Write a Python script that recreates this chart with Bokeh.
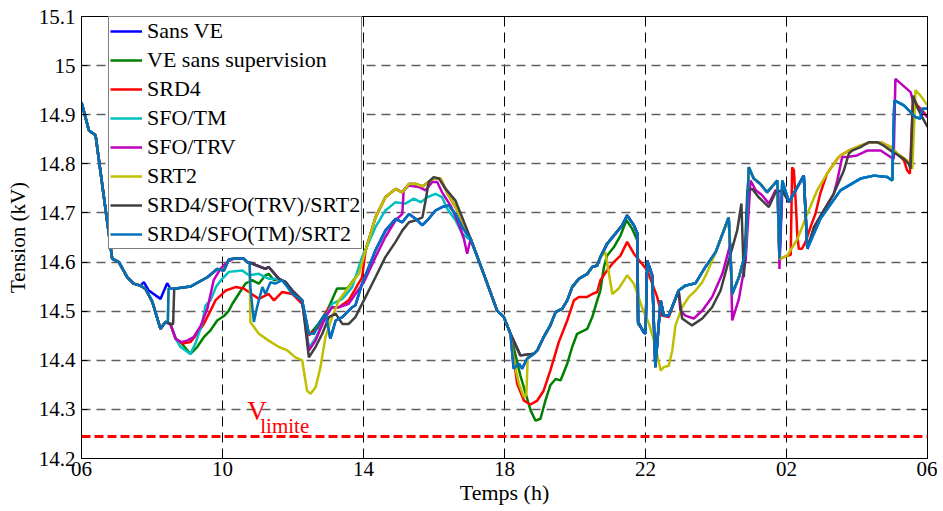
from bokeh.plotting import figure
from bokeh.models import Range1d, FixedTicker, LinearAxis, Span, Label
from bokeh.embed import file_html
from bokeh.resources import INLINE

# ---------------- data (time in hours after 06:00, voltage in kV) ----------------
x_ticks = [0, 4, 8, 12, 16, 20, 24]
x_tick_labels = ["06", "10", "14", "18", "22", "02", "06"]
y_ticks = [14.2, 14.3, 14.4, 14.5, 14.6, 14.7, 14.8, 14.9, 15.0, 15.1]
y_tick_labels = ["14.2", "14.3", "14.4", "14.5", "14.6", "14.7", "14.8", "14.9", "15", "15.1"]
v_limite = 14.245

series_names = ["Sans VE", "VE sans supervision", "SRD4", "SFO/TM", "SFO/TRV", "SRT2",
                "SRD4/SFO(TRV)/SRT2", "SRD4/SFO(TM)/SRT2"]
series_colors = ["#0000FF", "#008000", "#FF0000", "#00BFBF", "#BF00BF", "#BFBF00",
                 "#404040", "#0072BD"]

# shared pieces of the curves
start_t = [0.0, 0.21, 0.40, 0.87, 1.06, 1.30, 1.48, 1.67]
start_v = [14.925, 14.868, 14.858, 14.607, 14.600, 14.569, 14.556, 14.552]

low_a_t = [1.82, 2.01, 2.24, 2.38]
low_a_v = [14.545, 14.519, 14.464, 14.478]

low_b_t = [2.52, 2.67, 2.81]
low_b_v = [14.474, 14.444, 14.437]

jump_t = [2.45, 2.47]
jump_v = [14.478, 14.546]

gray_jump_t = [2.52, 2.60, 2.63]
gray_jump_v = [14.474, 14.474, 14.546]

sansve_morning_t = [1.77, 1.91, 2.24, 2.43, 2.52]
sansve_morning_v = [14.559, 14.542, 14.525, 14.557, 14.546]

top_m_t = [2.67, 3.09, 3.57, 3.85, 4.04, 4.18, 4.32, 4.60, 4.70]
top_m_v = [14.546, 14.550, 14.569, 14.586, 14.583, 14.605, 14.607, 14.607, 14.600]

top_noon_t = [4.84, 5.22, 5.31, 5.60, 5.79, 5.98, 6.26]
top_noon_v = [14.597, 14.586, 14.590, 14.566, 14.559, 14.542, 14.522]

blue_noon_a_t = [4.77, 4.79, 4.89, 4.98, 5.13, 5.22, 5.36, 5.50, 5.69, 5.84, 5.98, 6.26]
blue_noon_a_v = [14.597, 14.549, 14.478, 14.508, 14.549, 14.535, 14.559, 14.556, 14.563,
                 14.549, 14.535, 14.522]

blue_noon_b_t = [6.45, 6.59, 6.73, 6.92, 7.06, 7.21, 7.40, 7.68, 7.77, 7.96, 8.34, 8.62,
                 8.91, 9.10, 9.29, 9.48, 9.67, 9.85, 10.04, 10.23, 10.42, 10.61, 10.80]
blue_noon_b_v = [14.454, 14.454, 14.474, 14.495, 14.444, 14.481, 14.488, 14.508, 14.512,
                 14.556, 14.624, 14.664, 14.688, 14.681, 14.698, 14.688, 14.675, 14.688,
                 14.705, 14.712, 14.715, 14.698, 14.671]

yellow_hill_t = [8.06, 8.34, 8.62, 8.91, 9.10, 9.29, 9.48, 9.67, 9.85, 9.99, 10.18, 10.37,
                 10.61, 10.80, 10.99]
yellow_hill_v = [14.624, 14.691, 14.732, 14.749, 14.742, 14.759, 14.759, 14.754, 14.763,
                 14.770, 14.770, 14.742, 14.712, 14.685, 14.654]

desc_t = [11.04, 11.41, 11.79, 11.98, 12.17]
desc_v = [14.647, 14.576, 14.501, 14.488, 14.454]

blue_dip_t = [12.26, 12.41, 12.50, 12.64]
blue_dip_v = [14.383, 14.393, 14.383, 14.403]

flat_t = [12.45, 12.79]
flat_v = [14.410, 14.413]

eve_a_t = [12.83, 12.93, 13.11, 13.30, 13.45, 13.64, 13.78, 13.92, 14.11, 14.35, 14.49,
           14.63, 14.72]
eve_a_v = [14.413, 14.420, 14.447, 14.471, 14.498, 14.505, 14.522, 14.549, 14.566, 14.576,
           14.590, 14.593, 14.610]

eve_b_t = [14.91, 15.15, 15.34, 15.48, 15.67, 15.77, 15.79, 15.95, 16.00, 16.05, 16.19,
           16.28, 16.43, 16.52, 16.66, 16.94]
eve_b_v = [14.637, 14.658, 14.675, 14.695, 14.675, 14.658, 14.478, 14.457, 14.454, 14.603,
           14.573, 14.386, 14.522, 14.491, 14.491, 14.542]

night_a1_t = [17.13, 17.42, 17.70]
night_a1_v = [14.552, 14.557, 14.590]

night_a2_t = [17.99, 18.36, 18.46, 18.65, 18.84, 18.93, 19.07, 19.26, 19.45, 19.74, 19.80]
night_a2_v = [14.620, 14.691, 14.535, 14.569, 14.620, 14.793, 14.770, 14.759, 14.742,
              14.766, 14.607]

night_b_t = [19.88, 20.07, 20.49, 20.59, 20.96, 21.53, 22.10, 22.48, 22.86, 23.00, 23.06,
             23.33, 23.66, 23.80, 23.85, 24.0]
night_b_v = [14.766, 14.722, 14.776, 14.627, 14.688, 14.746, 14.770, 14.776, 14.773,
             14.766, 14.929, 14.919, 14.895, 14.892, 14.912, 14.912]

ridge_t = [21.15, 21.44, 21.53, 21.77, 22.10, 22.38, 22.67, 22.95, 23.14]
ridge_v = [14.780, 14.810, 14.817, 14.827, 14.837, 14.844, 14.844, 14.834, 14.821]

# series-specific pieces
green_day_t = [2.95, 3.09, 3.28, 3.47, 3.66, 3.85, 4.04, 4.18, 4.28, 4.46, 4.65, 4.84, 5.03,
               5.22, 5.31, 5.46, 5.60, 5.79, 5.98, 6.26, 6.45, 6.73, 6.97, 7.25, 7.54, 7.82]
green_day_v = [14.425, 14.413, 14.427, 14.447, 14.461, 14.481, 14.490, 14.501, 14.515,
               14.535, 14.556, 14.563, 14.556, 14.573, 14.576, 14.563, 14.566, 14.559,
               14.542, 14.515, 14.451, 14.475, 14.501, 14.546, 14.546, 14.573]
green_eve_t = [12.45, 12.74, 12.88, 13.02, 13.16, 13.30, 13.45, 13.59, 13.78, 13.92, 14.06,
               14.35, 14.49, 14.63, 14.72, 14.82, 14.91, 15.10, 15.29, 15.46, 15.62, 15.77,
               15.79, 16.00]
green_eve_v = [14.369, 14.298, 14.277, 14.281, 14.318, 14.349, 14.362, 14.359, 14.393,
               14.427, 14.454, 14.464, 14.488, 14.522, 14.542, 14.590, 14.613, 14.630,
               14.654, 14.685, 14.668, 14.644, 14.474, 14.454]

red_day_t = [2.86, 3.09, 3.28, 3.47, 3.66, 3.80, 4.09, 4.37, 4.60, 4.75, 5.03, 5.31, 5.46,
             5.69, 5.98, 6.26, 6.45, 6.73, 7.02, 7.30, 7.58, 7.96]
red_day_v = [14.434, 14.437, 14.454, 14.474, 14.501, 14.522, 14.542, 14.549, 14.546, 14.539,
             14.525, 14.535, 14.522, 14.539, 14.535, 14.515, 14.451, 14.467, 14.508, 14.508,
             14.522, 14.569]
red_eve_t = [12.36, 12.55, 12.74, 12.93, 13.11, 13.30, 13.54, 13.78, 13.97, 14.11, 14.35,
             14.49, 14.63, 14.72, 14.91, 15.10, 15.29, 15.48, 15.67, 15.86, 16.05, 16.14,
             16.33, 16.47, 16.66, 16.94]
red_eve_v = [14.352, 14.318, 14.310, 14.318, 14.338, 14.379, 14.437, 14.481, 14.522, 14.529,
             14.529, 14.535, 14.539, 14.563, 14.583, 14.600, 14.613, 14.641, 14.617, 14.600,
             14.583, 14.566, 14.529, 14.491, 14.488, 14.542]
red_night_t = [19.83, 20.02, 20.12, 20.16, 20.21, 20.26, 20.31, 20.35, 20.44, 20.54, 20.68,
               20.82, 20.96]
red_night_v = [14.607, 14.613, 14.615, 14.793, 14.787, 14.725, 14.651, 14.627, 14.627,
               14.641, 14.671, 14.698, 14.740]
red_end_t = [23.33, 23.42, 23.50, 23.59, 23.71, 23.85, 24.0]
red_end_v = [14.807, 14.787, 14.780, 14.935, 14.919, 14.909, 14.895]

cyan_morning_t = [2.52, 2.67, 2.81, 3.09, 3.23, 3.42, 3.52, 3.66, 3.82, 3.99, 4.18, 4.56,
                  4.75, 5.03, 5.31, 5.60]
cyan_morning_v = [14.474, 14.444, 14.427, 14.413, 14.434, 14.474, 14.512, 14.522, 14.550,
                  14.566, 14.580, 14.583, 14.573, 14.576, 14.566, 14.566]
cyan_day_t = [5.79, 5.98, 6.26, 6.45, 6.64, 6.92, 7.11, 7.40, 7.68, 7.96, 8.34, 8.62, 8.91,
              9.19, 9.43, 9.62, 9.81, 10.04, 10.23, 10.37, 10.61, 10.80, 10.99]
cyan_day_v = [14.559, 14.542, 14.522, 14.425, 14.445, 14.488, 14.515, 14.525, 14.549,
              14.610, 14.671, 14.705, 14.722, 14.719, 14.729, 14.722, 14.732, 14.739,
              14.732, 14.709, 14.685, 14.658, 14.647]

mag_morning_t = [3.00, 3.18, 3.38, 3.57, 3.75, 3.94, 4.13, 4.32, 4.60, 4.70]
mag_morning_v = [14.440, 14.447, 14.470, 14.505, 14.563, 14.586, 14.600, 14.607, 14.607,
                 14.600]
mag_day_t = [6.45, 6.64, 6.92, 7.11, 7.30, 7.58, 7.77, 8.01, 8.34, 8.62, 8.91, 9.10, 9.14,
             9.29, 9.57, 9.76, 9.95, 10.09, 10.23, 10.47, 10.70, 10.85, 10.94]
mag_day_v = [14.420, 14.440, 14.488, 14.508, 14.508, 14.515, 14.535, 14.559, 14.610, 14.651,
             14.685, 14.698, 14.746, 14.756, 14.753, 14.746, 14.763, 14.763, 14.742, 14.715,
             14.678, 14.647, 14.617]
mag_night_t = [16.99, 17.13, 17.37, 17.61, 17.89, 18.18, 18.41, 18.46, 18.65, 18.84, 18.98,
               19.13, 19.31, 19.50, 19.69, 19.77, 19.80, 19.88, 20.07, 20.49, 20.59, 20.78,
               21.06, 21.34, 21.44, 21.58, 21.72, 22.00, 22.29, 22.67, 22.95, 23.04, 23.09,
               23.52, 23.61, 24.0]
mag_night_v = [14.501, 14.491, 14.485, 14.501, 14.529, 14.576, 14.637, 14.481, 14.525,
               14.603, 14.766, 14.746, 14.736, 14.719, 14.746, 14.746, 14.586, 14.746,
               14.722, 14.776, 14.627, 14.671, 14.705, 14.739, 14.766, 14.814, 14.814,
               14.817, 14.827, 14.827, 14.814, 14.810, 14.973, 14.946, 14.922, 14.895]

yellow_day_t = [4.77, 4.79, 5.03, 5.31, 5.60, 5.84, 6.07, 6.26, 6.40, 6.50, 6.64, 6.78, 6.92,
                7.11, 7.30, 7.58, 7.87]
yellow_day_v = [14.597, 14.478, 14.454, 14.440, 14.427, 14.420, 14.406, 14.400, 14.338,
                14.332, 14.345, 14.386, 14.447, 14.488, 14.522, 14.549, 14.576]
yellow_eve_t = [12.26, 12.41, 12.55, 12.62, 12.66, 12.79]
yellow_eve_v = [14.400, 14.352, 14.325, 14.330, 14.406, 14.413]
yellow_eve2_t = [14.86, 15.06, 15.24, 15.48, 15.67, 15.90, 16.10, 16.24, 16.43, 16.52, 16.66,
                 16.76, 16.85, 17.04, 17.23, 17.42, 17.61, 17.75]
yellow_eve2_v = [14.620, 14.535, 14.546, 14.573, 14.556, 14.508, 14.474, 14.440, 14.379,
                 14.386, 14.389, 14.420, 14.471, 14.508, 14.529, 14.542, 14.559, 14.579]
yellow_night_t = [19.83, 20.02, 20.31, 20.59, 20.87]
yellow_night_v = [14.607, 14.613, 14.647, 14.698, 14.746]
yellow_end_t = [23.42, 23.57, 23.66, 23.80, 24.0]
yellow_end_v = [14.807, 14.790, 14.950, 14.939, 14.919]

gray_day_t = [6.45, 6.64, 6.83, 7.02, 7.21, 7.40, 7.58, 7.77, 8.06, 8.34, 8.62, 8.91, 9.10,
              9.29, 9.48, 9.67, 9.76, 9.85, 9.99, 10.14, 10.33, 10.61, 10.80]
gray_day_v = [14.406, 14.427, 14.454, 14.488, 14.495, 14.474, 14.474, 14.488, 14.529,
              14.569, 14.610, 14.641, 14.664, 14.681, 14.685, 14.691, 14.725, 14.763,
              14.773, 14.770, 14.749, 14.725, 14.691]
gray_night_t = [17.04, 17.32, 17.61, 17.89, 18.13, 18.36, 18.60, 18.72, 18.79, 18.89, 19.03,
                19.21, 19.50, 19.69, 19.88, 20.07, 20.49, 20.59, 20.78, 21.06, 21.34, 21.63,
                21.77, 21.86, 22.10, 22.33, 22.57, 22.76, 22.95, 23.09, 23.33, 23.47, 23.52,
                23.59, 23.71, 23.85, 24.0]
gray_night_v = [14.485, 14.471, 14.485, 14.508, 14.542, 14.603, 14.664, 14.719, 14.569,
                14.746, 14.749, 14.732, 14.712, 14.742, 14.746, 14.722, 14.776, 14.627,
                14.671, 14.705, 14.739, 14.787, 14.821, 14.827, 14.834, 14.844, 14.844,
                14.837, 14.827, 14.821, 14.810, 14.800, 14.790, 14.939, 14.915, 14.895,
                14.875]

# assemble each series from its pieces
sansve_t = (start_t + sansve_morning_t + top_m_t + top_noon_t + blue_noon_b_t + desc_t +
            blue_dip_t + eve_a_t + eve_b_t + night_a1_t + night_a2_t + night_b_t)
sansve_v = (start_v + sansve_morning_v + top_m_v + top_noon_v + blue_noon_b_v + desc_v +
            blue_dip_v + eve_a_v + eve_b_v + night_a1_v + night_a2_v + night_b_v)

green_t = start_t + low_a_t + low_b_t + green_day_t + yellow_hill_t + desc_t + green_eve_t
green_v = start_v + low_a_v + low_b_v + green_day_v + yellow_hill_v + desc_v + green_eve_v

red_t = (start_t + low_a_t + low_b_t + red_day_t + yellow_hill_t + desc_t + red_eve_t +
         night_a1_t + night_a2_t + red_night_t + ridge_t + red_end_t)
red_v = (start_v + low_a_v + low_b_v + red_day_v + yellow_hill_v + desc_v + red_eve_v +
         night_a1_v + night_a2_v + red_night_v + ridge_v + red_end_v)

cyan_t = (start_t + low_a_t + cyan_morning_t + cyan_day_t + desc_t + flat_t + eve_a_t +
          eve_b_t + night_a1_t + night_a2_t + night_b_t)
cyan_v = (start_v + low_a_v + cyan_morning_v + cyan_day_v + desc_v + flat_v + eve_a_v +
          eve_b_v + night_a1_v + night_a2_v + night_b_v)

mag_t = (start_t + low_a_t + low_b_t + mag_morning_t + top_noon_t + mag_day_t + desc_t +
         flat_t + eve_a_t + eve_b_t + mag_night_t)
mag_v = (start_v + low_a_v + low_b_v + mag_morning_v + top_noon_v + mag_day_v + desc_v +
         flat_v + eve_a_v + eve_b_v + mag_night_v)

yellow_t = (start_t + low_a_t + jump_t + top_m_t + yellow_day_t + yellow_hill_t + desc_t +
            yellow_eve_t + eve_a_t + yellow_eve2_t + night_a2_t + yellow_night_t + ridge_t +
            yellow_end_t)
yellow_v = (start_v + low_a_v + jump_v + top_m_v + yellow_day_v + yellow_hill_v + desc_v +
            yellow_eve_v + eve_a_v + yellow_eve2_v + night_a2_v + yellow_night_v + ridge_v +
            yellow_end_v)

gray_t = (start_t + low_a_t + gray_jump_t + top_m_t + top_noon_t + gray_day_t + desc_t +
          flat_t + eve_a_t + eve_b_t + gray_night_t)
gray_v = (start_v + low_a_v + gray_jump_v + top_m_v + top_noon_v + gray_day_v + desc_v +
          flat_v + eve_a_v + eve_b_v + gray_night_v)

blue_t = (start_t + low_a_t + jump_t + top_m_t + blue_noon_a_t + blue_noon_b_t + desc_t +
          blue_dip_t + eve_a_t + eve_b_t + night_a1_t + night_a2_t + night_b_t)
blue_v = (start_v + low_a_v + jump_v + top_m_v + blue_noon_a_v + blue_noon_b_v + desc_v +
          blue_dip_v + eve_a_v + eve_b_v + night_a1_v + night_a2_v + night_b_v)

all_t = [sansve_t, green_t, red_t, cyan_t, mag_t, yellow_t, gray_t, blue_t]
all_v = [sansve_v, green_v, red_v, cyan_v, mag_v, yellow_v, gray_v, blue_v]

# ---------------- figure ----------------
FONT = "Liberation Serif"

p = figure(frame_width=846, frame_height=442,
           x_range=Range1d(0, 24), y_range=Range1d(14.2, 15.1),
           output_backend="svg", toolbar_location=None,
           min_border_left=81, min_border_right=10, min_border_top=16, min_border_bottom=45)
p.background_fill_color = "white"
p.border_fill_color = "white"
p.outline_line_color = "black"
p.outline_line_width = 1

p.xaxis.ticker = FixedTicker(ticks=x_ticks, minor_ticks=[])
p.xaxis.major_label_overrides = dict(zip(x_ticks, x_tick_labels))
p.yaxis.ticker = FixedTicker(ticks=y_ticks, minor_ticks=[])
p.yaxis.major_label_overrides = dict(zip(y_ticks, y_tick_labels))
p.xgrid.ticker = FixedTicker(ticks=x_ticks, minor_ticks=[])
p.ygrid.ticker = FixedTicker(ticks=y_ticks, minor_ticks=[])

for ax in (p.xaxis[0], p.yaxis[0]):
    ax.major_tick_in = 6
    ax.major_tick_out = 0
    ax.minor_tick_line_color = None
    ax.axis_line_color = "black"
    ax.major_tick_line_color = "black"
    ax.major_label_text_font = FONT
    ax.major_label_text_font_size = "21px"
    ax.major_label_text_color = "black"
    ax.axis_label_text_font = FONT
    ax.axis_label_text_font_style = "normal"
    ax.axis_label_text_color = "black"

p.xaxis.axis_label = "Temps (h)"
p.yaxis.axis_label = "Tension (kV)"
p.xaxis.axis_label_text_font_size = "22px"
p.yaxis.axis_label_text_font_size = "21px"
p.xaxis.major_label_standoff = 3
p.xaxis.axis_label_standoff = 1
p.yaxis.major_label_standoff = 6
p.yaxis.axis_label_standoff = 6

top_ax = LinearAxis(ticker=FixedTicker(ticks=x_ticks, minor_ticks=[]),
                    major_label_overrides={t: "" for t in x_ticks},
                    major_label_text_font_size="0px", major_label_standoff=0,
                    major_tick_in=6, major_tick_out=0, minor_tick_line_color=None)
right_ax = LinearAxis(ticker=FixedTicker(ticks=y_ticks, minor_ticks=[]),
                      major_label_overrides={t: "" for t in y_ticks},
                      major_label_text_font_size="0px", major_label_standoff=0,
                      major_tick_in=6, major_tick_out=0, minor_tick_line_color=None)
p.add_layout(top_ax, "above")
p.add_layout(right_ax, "right")

p.xgrid.grid_line_color = "black"
p.xgrid.grid_line_dash = "10 6"
p.xgrid.grid_line_width = 1
p.ygrid.grid_line_color = "#606060"
p.ygrid.grid_line_dash = "9 6"
p.ygrid.grid_line_width = 1.4

for t, v, name, color in zip(all_t, all_v, series_names, series_colors):
    p.line(t, v, line_color=color, line_width=2.5, legend_label=name)

p.add_layout(Span(location=v_limite, dimension="width", line_color="#FF0000",
                  line_width=3, line_dash="9 4"))
p.add_layout(Label(x=4.70, y=14.297, text="V", text_color="#FF0000", text_font=FONT,
                   text_font_size="27px", text_baseline="alphabetic"))
p.add_layout(Label(x=5.07, y=14.267, text="limite", text_color="#FF0000", text_font=FONT,
                   text_font_size="21px", text_baseline="alphabetic"))

lg = p.legend[0]
lg.location = (27, 209)
lg.label_text_font = FONT
lg.label_text_font_size = "22px"
lg.label_text_color = "black"
lg.glyph_width = 32
lg.glyph_height = 22
lg.label_height = 22
lg.spacing = 3
lg.padding = 1
lg.margin = 0
lg.label_standoff = 5
lg.border_line_color = "black"
lg.border_line_width = 1
lg.background_fill_alpha = 1

open("out.html", "w").write(file_html(p, INLINE))
